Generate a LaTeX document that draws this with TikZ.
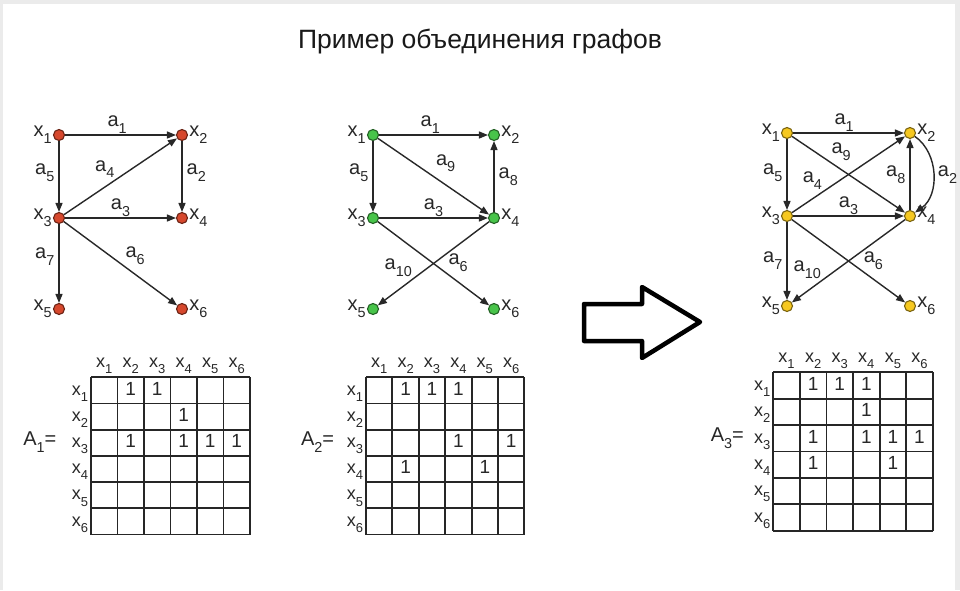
\documentclass[tikz,border=0pt]{standalone}
\usepackage{fontspec}
\setmainfont{Liberation Sans}
\usepackage{xcolor}
\usetikzlibrary{arrows.meta}

\definecolor{vred}{RGB}{214,72,45}
\definecolor{vgreen}{RGB}{72,196,74}
\definecolor{vyellow}{RGB}{246,200,32}
\definecolor{ink}{RGB}{40,40,40}

% letter with a low subscript
\newcommand{\sbs}[2]{#1\raisebox{-.34em}{\scalebox{.72}{#2}}}

\begin{document}
\begin{tikzpicture}[
  x=1pt, y=-1pt,
  % graph vertices (fill colour as argument)
  vert/.style={circle, draw=#1!50!black, fill=#1, line width=1.1pt,
               minimum size=11pt, inner sep=0pt},
  vlbl/.style={font=\fontsize{20}{20}\selectfont, text=ink, inner sep=1pt},
  elbl/.style={font=\fontsize{20}{20}\selectfont, text=ink, inner sep=1pt},
  edge/.style={-{Triangle[length=9pt,width=7pt]}, line width=1.4pt, draw=ink},
  % adjacency matrices
  grid/.style={line width=1.9pt, draw=black!85},
  mlbl/.style={font=\fontsize{18}{18}\selectfont, text=ink, inner sep=0pt},
  one/.style={font=\fontsize{19}{19}\selectfont, text=ink, inner sep=0pt},
  albl/.style={font=\fontsize{20}{20}\selectfont, text=ink, inner sep=0pt},
  bigarrow/.style={line width=4.5pt, line join=round, draw=black, fill=white},
  title/.style={font=\fontsize{26.5}{26.5}\selectfont, text=black!90}
]
\useasboundingbox (0,0) rectangle (960,590);
\fill[black!8] (0,0) rectangle (960,590);
\fill[white] (3,4) rectangle (955,590);

%% ── Title ───────────────────────────────────────────────────
\node[title] (title) at (480,42) {Пример объединения графов};

%% ── Graph 1 (red) ───────────────────────────────────────────
\node[vert=vred, label={[vlbl]left:\sbs{x}{1}}]  (g1x1) at (59,135) {};
\node[vert=vred, label={[vlbl]right:\sbs{x}{2}}] (g1x2) at (182,135) {};
\node[vert=vred, label={[vlbl]left:\sbs{x}{3}}]  (g1x3) at (59,218) {};
\node[vert=vred, label={[vlbl]right:\sbs{x}{4}}] (g1x4) at (182,218) {};
\node[vert=vred, label={[vlbl]left:\sbs{x}{5}}]  (g1x5) at (59,309) {};
\node[vert=vred, label={[vlbl]right:\sbs{x}{6}}] (g1x6) at (182,309) {};

\draw[edge] (g1x1) -- node[elbl, above, pos=.47]        {\sbs{a}{1}} (g1x2);
\draw[edge] (g1x1) -- node[elbl, left=3pt, pos=.45]     {\sbs{a}{5}} (g1x3);
\draw[edge] (g1x3) -- node[elbl, above left, pos=.46]   {\sbs{a}{4}} (g1x2);
\draw[edge] (g1x2) -- node[elbl, right=3pt, pos=.45]    {\sbs{a}{2}} (g1x4);
\draw[edge] (g1x3) -- node[elbl, above, pos=.5]         {\sbs{a}{3}} (g1x4);
\draw[edge] (g1x3) -- node[elbl, left=3pt, pos=.41]     {\sbs{a}{7}} (g1x5);
\draw[edge] (g1x3) -- node[elbl, above right, pos=.53]  {\sbs{a}{6}} (g1x6);

%% ── Graph 2 (green) ─────────────────────────────────────────
\node[vert=vgreen, label={[vlbl]left:\sbs{x}{1}}]  (g2x1) at (373,135) {};
\node[vert=vgreen, label={[vlbl]right:\sbs{x}{2}}] (g2x2) at (494,135) {};
\node[vert=vgreen, label={[vlbl]left:\sbs{x}{3}}]  (g2x3) at (373,218) {};
\node[vert=vgreen, label={[vlbl]right:\sbs{x}{4}}] (g2x4) at (494,218) {};
\node[vert=vgreen, label={[vlbl]left:\sbs{x}{5}}]  (g2x5) at (373,309) {};
\node[vert=vgreen, label={[vlbl]right:\sbs{x}{6}}] (g2x6) at (494,309) {};

\draw[edge] (g2x1) -- node[elbl, above, pos=.47]          {\sbs{a}{1}} (g2x2);
\draw[edge] (g2x1) -- node[elbl, left=3pt, pos=.45]       {\sbs{a}{5}} (g2x3);
\draw[edge] (g2x1) -- node[elbl, above right=2pt, pos=.49]{\sbs{a}{9}} (g2x4);
\draw[edge] (g2x3) -- node[elbl, above, pos=.5]           {\sbs{a}{3}} (g2x4);
\draw[edge] (g2x4) -- node[elbl, right=3pt, pos=.5]       {\sbs{a}{8}} (g2x2);
\draw[edge] (g2x4) -- node[elbl, above left, pos=.68]     {\sbs{a}{10}} (g2x5);
\draw[edge] (g2x3) -- node[elbl, above right, pos=.62]    {\sbs{a}{6}} (g2x6);

%% ── Union arrow ─────────────────────────────────────────────
\draw[bigarrow] (584,304) -- (642,304) -- (642,287) -- (700,322)
                -- (642,358) -- (642,341) -- (584,341) -- cycle;

%% ── Graph 3 (yellow, union) ─────────────────────────────────
\node[vert=vyellow, label={[vlbl]left:\sbs{x}{1}}]  (g3x1) at (787,133) {};
\node[vert=vyellow, label={[vlbl]right:\sbs{x}{2}}] (g3x2) at (910,133) {};
\node[vert=vyellow, label={[vlbl]left:\sbs{x}{3}}]  (g3x3) at (787,216) {};
\node[vert=vyellow, label={[vlbl]right:\sbs{x}{4}}] (g3x4) at (910,216) {};
\node[vert=vyellow, label={[vlbl]left:\sbs{x}{5}}]  (g3x5) at (787,306) {};
\node[vert=vyellow, label={[vlbl]right:\sbs{x}{6}}] (g3x6) at (910,306) {};

\draw[edge] (g3x1) -- node[elbl, above, pos=.46]        {\sbs{a}{1}} (g3x2);
\draw[edge] (g3x1) -- node[elbl, left=3pt, pos=.48]     {\sbs{a}{5}} (g3x3);
\draw[edge] (g3x1) -- node[elbl, above right, pos=.335] {\sbs{a}{9}} (g3x4);
\draw[edge] (g3x3) -- node[elbl, above left, pos=.28]   {\sbs{a}{4}} (g3x2);
\draw[edge] (g3x3) -- node[elbl, above, pos=.5]         {\sbs{a}{3}} (g3x4);
\draw[edge] (g3x4) -- node[elbl, left=3pt, pos=.5]      {\sbs{a}{8}} (g3x2);
\draw[edge] (g3x2) to[bend left=55] node[elbl, right=3pt] {\sbs{a}{2}} (g3x4);
\draw[edge] (g3x3) -- node[elbl, left=3pt, pos=.5]      {\sbs{a}{7}} (g3x5);
\draw[edge] (g3x4) -- node[elbl, above left, pos=.73]   {\sbs{a}{10}} (g3x5);
\draw[edge] (g3x3) -- node[elbl, above right, pos=.62]  {\sbs{a}{6}} (g3x6);

%% ── Matrix A1 ───────────────────────────────────────────────
\begin{scope}[shift={(91,377.3)}, x=26.5pt, y=-26.2pt]
  \foreach \k in {0,...,6} {
    \draw[grid] (\k,0) -- (\k,6);
    \draw[grid] (0,\k) -- (6,\k);
  }
  \foreach \c in {1,...,6} {
    \node[mlbl, anchor=base] (m1c\c) at (\c-.5,-.36) {\sbs{x}{\c}};
    \node[mlbl, anchor=base east] (m1r\c) at (-.1,\c-.32) {\sbs{x}{\c}};
  }
  \foreach \r/\c in {1/2,1/3,2/4,3/2,3/4,3/5,3/6}
    \node[one] (m1e\r\c) at (\c-.5,\r-.56) {1};
  \node[albl, anchor=base east] (amat1) at (-1.3,2.62) {\sbs{A}{1}=};
\end{scope}

%% ── Matrix A2 ───────────────────────────────────────────────
\begin{scope}[shift={(366,377.3)}, x=26.4pt, y=-26.2pt]
  \foreach \k in {0,...,6} {
    \draw[grid] (\k,0) -- (\k,6);
    \draw[grid] (0,\k) -- (6,\k);
  }
  \foreach \c in {1,...,6} {
    \node[mlbl, anchor=base] (m2c\c) at (\c-.5,-.36) {\sbs{x}{\c}};
    \node[mlbl, anchor=base east] (m2r\c) at (-.1,\c-.32) {\sbs{x}{\c}};
  }
  \foreach \r/\c in {1/2,1/3,1/4,3/4,3/6,4/2,4/5}
    \node[one] (m2e\r\c) at (\c-.5,\r-.56) {1};
  \node[albl, anchor=base east] (amat2) at (-1.2,2.62) {\sbs{A}{2}=};
\end{scope}

%% ── Matrix A3 ───────────────────────────────────────────────
\begin{scope}[shift={(773.3,372.3)}, x=26.57pt, y=-26.4pt]
  \foreach \k in {0,...,6} {
    \draw[grid] (\k,0) -- (\k,6);
    \draw[grid] (0,\k) -- (6,\k);
  }
  \foreach \c in {1,...,6} {
    \node[mlbl, anchor=base] (m3c\c) at (\c-.5,-.36) {\sbs{x}{\c}};
    \node[mlbl, anchor=base east] (m3r\c) at (-.1,\c-.32) {\sbs{x}{\c}};
  }
  \foreach \r/\c in {1/2,1/3,1/4,2/4,3/2,3/4,3/5,3/6,4/2,4/5}
    \node[one] (m3e\r\c) at (\c-.5,\r-.56) {1};
  \node[albl, anchor=base east] (amat3) at (-1.1,2.62) {\sbs{A}{3}=};
\end{scope}

\end{tikzpicture}
\end{document}
